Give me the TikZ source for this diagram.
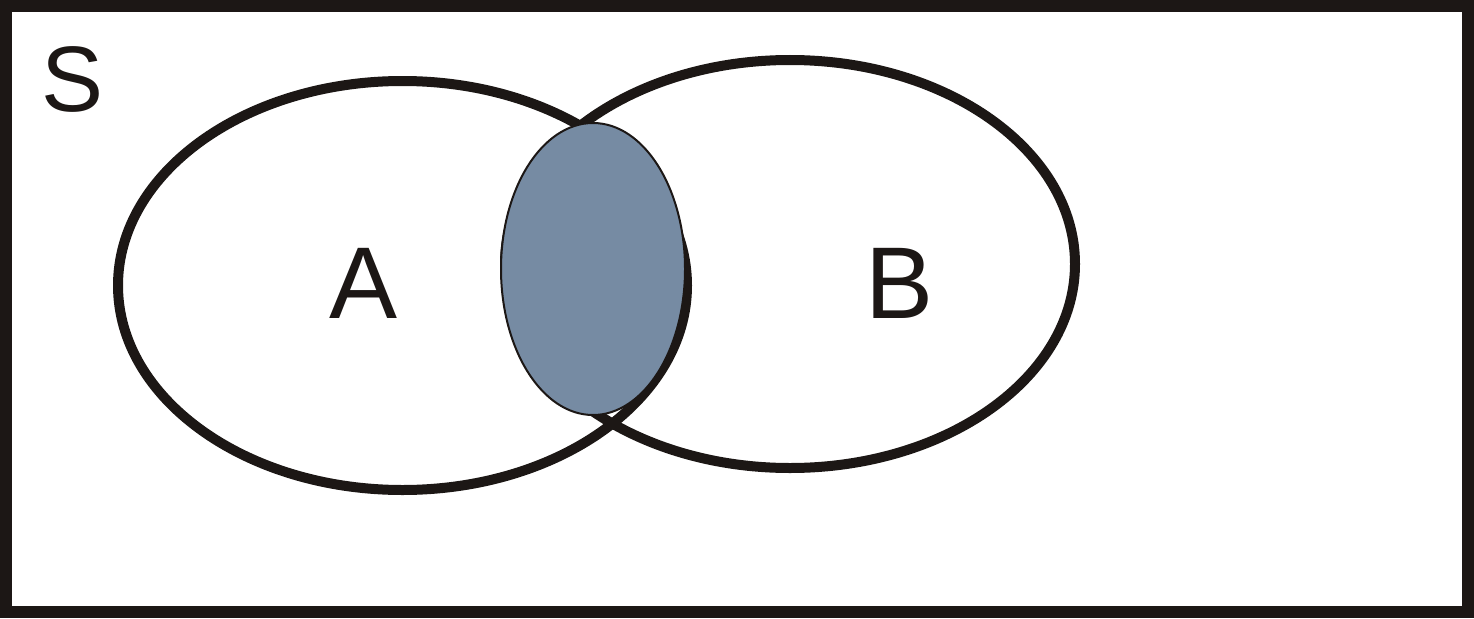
\documentclass[tikz,border=0pt]{standalone}
\usepackage{fontspec}
\setmainfont{Liberation Sans}
\definecolor{ink}{RGB}{28,23,21}
\definecolor{slate}{RGB}{118,139,163}
\tikzset{
  setline/.style={draw=ink, line width=10pt},
  frameline/.style={draw=ink, line width=12pt},
  overlap/.style={draw=ink, fill=slate, line width=2pt},
  biglabel/.style={text=ink, inner sep=0pt, anchor=base, font=\fontsize{102}{102}\selectfont},
  slabel/.style={text=ink, inner sep=0pt, anchor=base, font=\fontsize{93}{93}\selectfont}
}
\begin{document}
\begin{tikzpicture}[x=1pt,y=-1pt]
\useasboundingbox (0,0) rectangle (1474,618);
\draw[frameline] (6,6) rectangle (1468,612);
\draw[setline] (402.5,285.5) ellipse [x radius=284.5, y radius=204.5];
\draw[setline] (790,264) ellipse [x radius=285, y radius=204];
\draw[overlap] (593,269) ellipse [x radius=92, y radius=146];
\node[slabel] (S) at (73,111) {S};
\node[biglabel] (A) at (364,318) {A};
\node[biglabel] (B) at (900,318) {B};
\end{tikzpicture}
\end{document}
